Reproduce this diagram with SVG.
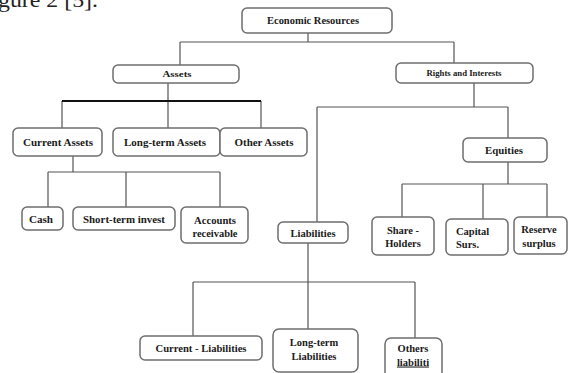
<svg xmlns="http://www.w3.org/2000/svg" width="568" height="373" viewBox="0 0 568 373">
<style>
.box{fill:#fff;stroke:#6e6e6e;stroke-width:1.5}
.t{font-family:"Liberation Serif","Times New Roman",serif;font-weight:bold;fill:#1a1a1a;text-anchor:middle}
.s8{font-size:8px}
.s10{font-size:10.5px}
.con{fill:none;stroke:#555;stroke-width:1.2}
.thick{fill:none;stroke:#111;stroke-width:2}
.cap{font-family:"Liberation Serif","Times New Roman",serif;font-size:22px;fill:#222}
</style>
<rect width="568" height="373" fill="#fff"/>
<text class="cap" x="-2" y="7" textLength="100" lengthAdjust="spacingAndGlyphs">gure 2 [5].</text>
<g id="connectors">
<path class="con" d="M308,33V42M180,42H454M180,42V65M454,42V63"/>
<path class="con" d="M168,83V128M62,101V128M261,101V128"/>
<path class="thick" d="M62,101H261"/>
<path class="con" d="M73,156V172M48,172H220M48,172V207M126,172V207M220,172V207"/>
<path class="con" d="M474,83V107M317,107H508M317,107V222M508,107V138"/>
<path class="con" d="M508,162V184M402,184H547M402,184V217M483,184V219M547,184V217"/>
<path class="con" d="M308,243V282M193,282H415M193,282V336M308,282V329M415,282V338"/>
</g>
<g id="economic-resources"><rect class="box" x="242" y="8" width="150" height="25" rx="5"/><text class="t s10" x="313" y="24" textLength="92" lengthAdjust="spacingAndGlyphs">Economic Resources</text></g>
<g id="assets"><rect class="box" x="113" y="65" width="126" height="18" rx="5"/><text class="t s8" x="177" y="77" textLength="29" lengthAdjust="spacingAndGlyphs">Assets</text></g>
<g id="rights"><rect class="box" x="396" y="63" width="137" height="20" rx="5"/><text class="t s8" x="464" y="76" textLength="75" lengthAdjust="spacingAndGlyphs">Rights and Interests</text></g>
<g id="current-assets"><rect class="box" x="13" y="128" width="89" height="28" rx="5"/><text class="t s10" x="58" y="146" textLength="70" lengthAdjust="spacingAndGlyphs">Current Assets</text></g>
<g id="long-term-assets"><rect class="box" x="113" y="128" width="107" height="28" rx="5"/><text class="t s10" x="165" y="146" textLength="82" lengthAdjust="spacingAndGlyphs">Long-term Assets</text></g>
<g id="other-assets"><rect class="box" x="220" y="128" width="87" height="28" rx="5"/><text class="t s10" x="264" y="146" textLength="59" lengthAdjust="spacingAndGlyphs">Other Assets</text></g>
<g id="cash"><rect class="box" x="22" y="207" width="41" height="23" rx="5"/><text class="t s10" x="41" y="222.5" textLength="24" lengthAdjust="spacingAndGlyphs">Cash</text></g>
<g id="short-term-invest"><rect class="box" x="73" y="207" width="102" height="23" rx="5"/><text class="t s10" x="124" y="222.5" textLength="82" lengthAdjust="spacingAndGlyphs">Short-term invest</text></g>
<g id="accounts-receivable"><rect class="box" x="181" y="207" width="67" height="36" rx="5"/><text class="t s10" x="215" y="223.5" textLength="42" lengthAdjust="spacingAndGlyphs">Accounts</text><text class="t s10" x="215" y="236.5" textLength="45" lengthAdjust="spacingAndGlyphs">receivable</text></g>
<g id="liabilities"><rect class="box" x="278" y="222" width="70" height="21" rx="5"/><text class="t s10" x="313" y="236.5" textLength="45" lengthAdjust="spacingAndGlyphs">Liabilities</text></g>
<g id="equities"><rect class="box" x="463" y="138" width="84" height="24" rx="5"/><text class="t s10" x="504" y="153.5" textLength="38" lengthAdjust="spacingAndGlyphs">Equities</text></g>
<g id="share-holders"><rect class="box" x="372" y="217" width="62" height="38" rx="5"/><text class="t s10" x="403" y="233.5">Share -</text><text class="t s10" x="403" y="246.5">Holders</text></g>
<g id="capital-surs"><rect class="box" x="446" y="219" width="62" height="36" rx="5"/><text class="t s10" x="456" y="234.5" style="text-anchor:start">Capital</text><text class="t s10" x="456" y="247.5" style="text-anchor:start">Surs.</text></g>
<g id="reserve-surplus"><rect class="box" x="514" y="217" width="53" height="37" rx="5"/><text class="t s10" x="539" y="232.5">Reserve</text><text class="t s10" x="539" y="246.5">surplus</text></g>
<g id="current-liabilities"><rect class="box" x="140" y="336" width="122" height="24" rx="5"/><text class="t s10" x="201" y="351.5" textLength="91" lengthAdjust="spacingAndGlyphs">Current - Liabilities</text></g>
<g id="long-term-liabilities"><rect class="box" x="273" y="329" width="85" height="43" rx="6"/><text class="t s10" x="314" y="345.5">Long-term</text><text class="t s10" x="314" y="359.5">Liabilities</text></g>
<g id="others-liabilities"><rect class="box" x="385" y="338" width="57" height="40" rx="6"/><text class="t s10" x="413" y="351.5">Others</text><text class="t s10" x="413" y="365.5" style="text-decoration:underline">liabiliti</text></g>
</svg>
